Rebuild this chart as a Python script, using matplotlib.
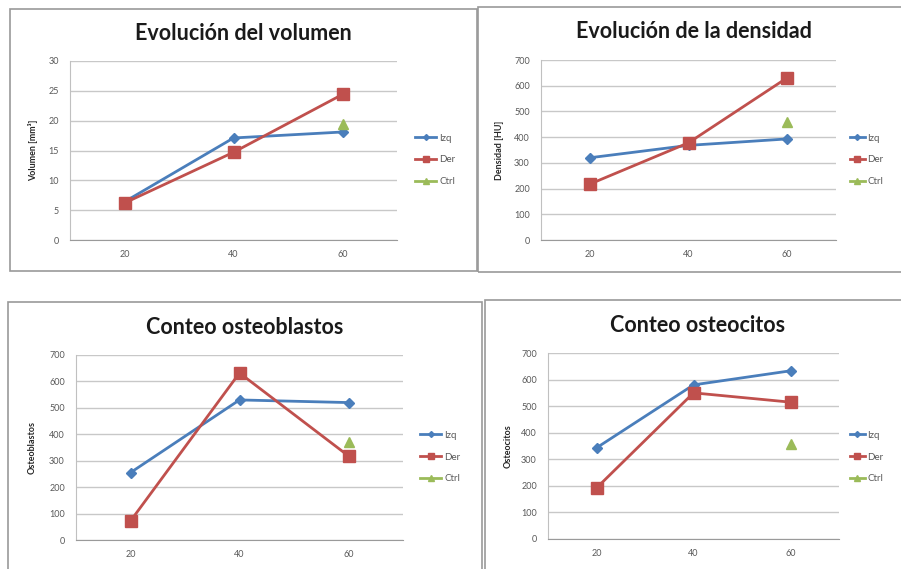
import matplotlib
matplotlib.use("Agg")
import matplotlib.pyplot as plt
from matplotlib.patches import Rectangle

plt.rcParams['font.family'] = ['Lato', 'DejaVu Sans']

x_days = [20, 40, 60]
series_names = ["Izq", "Der", "Ctrl"]

vol_izq = [6.4, 17.1, 18.1]
vol_der = [6.2, 14.7, 24.4]
vol_ctrl = [None, None, 19.5]

den_izq = [320, 368, 393]
den_der = [218, 378, 630]
den_ctrl = [None, None, 460]

ob_izq = [255, 530, 520]
ob_der = [72, 632, 318]
ob_ctrl = [None, None, 370]

oc_izq = [343, 580, 633]
oc_der = [192, 550, 515]
oc_ctrl = [None, None, 358]

titles = ["Evolución del volumen", "Evolución de la densidad",
          "Conteo osteoblastos", "Conteo osteocitos"]
ylabels = ["Volumen [mm³]", "Densidad [HU]", "Osteoblastos", "Osteocitos"]
ymaxes = [30, 700, 700, 700]
ysteps = [5, 100, 100, 100]

W, H = 901, 569
fig = plt.figure(figsize=(W / 100, H / 100), dpi=100)

def fbox(x0, y0, x1, y1):
    return [x0 / W, 1 - y1 / H, (x1 - x0) / W, (y1 - y0) / H]

BLUE = "#4A7EBB"
RED = "#C0504D"
GREEN = "#9BBB59"

panels = [
    dict(frame=(10, 9, 477, 271), area=(70, 61, 397, 240), tx=243, ty=33, lx=33,
         leg=(415, 160), hl=2.2, data=(vol_izq, vol_der, vol_ctrl)),
    dict(frame=(478, 7, 906, 272), area=(541, 60, 836, 240), tx=694, ty=31, lx=500,
         leg=(850, 160), hl=1.5, data=(den_izq, den_der, den_ctrl)),
    dict(frame=(8, 302, 482, 575), area=(76, 355, 403, 540), tx=245, ty=328, lx=32,
         leg=(420, 457), hl=2.2, data=(ob_izq, ob_der, ob_ctrl)),
    dict(frame=(485, 300, 906, 575), area=(548, 353, 839, 539), tx=698, ty=326, lx=508,
         leg=(850, 457), hl=1.5, data=(oc_izq, oc_der, oc_ctrl)),
]

for i, p in enumerate(panels):
    x0, y0, x1, y1 = p["frame"]
    fig.patches.append(Rectangle((x0 / W, 1 - y1 / H), (x1 - x0) / W, (y1 - y0) / H,
                                 transform=fig.transFigure, fill=False,
                                 edgecolor="#999999", linewidth=1.2))
    ax = fig.add_axes(fbox(*p["area"]))
    izq, der, ctrl = p["data"]
    ax.plot(x_days, izq, color=BLUE, lw=2, marker="D", ms=5, mec=BLUE, label=series_names[0])
    ax.plot(x_days, der, color=RED, lw=2, marker="s", ms=8, mec=RED, label=series_names[1])
    cx = [x for x, v in zip(x_days, ctrl) if v is not None]
    cy = [v for v in ctrl if v is not None]
    ax.plot(cx, cy, color=GREEN, lw=2, marker="^", ms=7, mec=GREEN, linestyle="-",
            label=series_names[2])
    ax.set_xlim(10, 70)
    ax.set_ylim(0, ymaxes[i])
    ax.set_xticks(x_days)
    ax.set_yticks(range(0, ymaxes[i] + 1, ysteps[i]))
    ax.grid(axis="y", color="#c8c8c8", lw=1)
    ax.set_axisbelow(True)
    for s in ["top", "right"]:
        ax.spines[s].set_visible(False)
    ax.spines["left"].set_color("#c0c0c0")
    ax.spines["bottom"].set_color("#9a9a9a")
    ax.tick_params(axis="both", labelsize=6.5, colors="#595959", length=0, pad=8)
    ax.tick_params(axis="x", pad=7)
    fig.text(p["tx"] / W, 1 - p["ty"] / H, titles[i],
             ha="center", va="center", fontsize=15.5, fontweight="bold", color="#1a1a1a")
    cy_area = (p["area"][1] + p["area"][3]) / 2
    fig.text(p["lx"] / W, 1 - cy_area / H, ylabels[i], rotation=90, ha="center",
             va="center", fontsize=6.5, fontweight="bold", color="#262626")
    lx, ly = p["leg"]
    ax.legend(loc="center left", bbox_to_anchor=(lx / W, 1 - ly / H),
              bbox_transform=fig.transFigure, frameon=False, fontsize=7,
              labelcolor="#595959", handlelength=p["hl"], handletextpad=0.3,
              labelspacing=1.3, markerscale=0.6, borderaxespad=0, borderpad=0)

fig.savefig("out.png", dpi=100)
